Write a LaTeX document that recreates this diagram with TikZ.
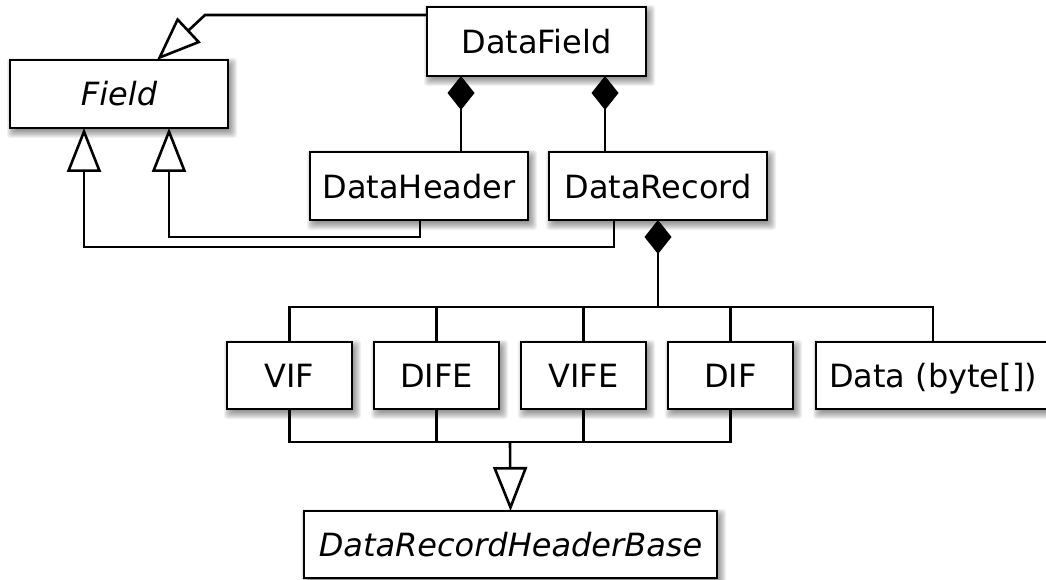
\documentclass[tikz,border=0pt]{standalone}
\usepackage{fontspec}
\setmainfont{DejaVu Sans}
\usetikzlibrary{arrows.meta,calc,backgrounds}

\tikzset{
  cls/.style={draw, line width=2.6pt, fill=white, inner sep=0pt, outer sep=0pt,
              font=\fontsize{32}{38}\selectfont, minimum height=68pt,
              text height=24pt, text depth=0pt},
  wide/.style={cls, minimum width=218pt},
  narrow/.style={cls, minimum width=125pt},
  abstractcls/.style={font=\fontsize{32}{38}\selectfont\itshape},
  link/.style={line width=2.6pt, line join=miter},
  gen/.style={link, -{Triangle[length=44pt, width=34pt, fill=white, line join=miter]}},
  comp/.style={link, {Diamond[length=34pt, width=27pt, line join=miter]}-},
}

\begin{document}
\begin{tikzpicture}[x=1pt, y=-1pt]
  \useasboundingbox (0,0) rectangle (1046,580);

  % classes
  \node[wide, abstractcls] (Field)     at (119,94)     {Field};
  \node[wide, minimum width=219pt, minimum height=69pt] (DataField) at (536.5,41.5) {DataField};
  \node[wide] (DataHeader) at (419,186) {DataHeader};
  \node[wide] (DataRecord) at (658,186) {DataRecord};

  \node[narrow, minimum height=67pt] (VIF)  at (289.5,375.5) {VIF};
  \node[narrow, minimum height=67pt] (DIFE) at (436.5,375.5) {DIFE};
  \node[narrow, minimum height=67pt] (VIFE) at (583.5,375.5) {VIFE};
  \node[narrow, minimum height=67pt] (DIF)  at (730.5,375.5) {DIF};
  \node[cls, minimum width=234pt, minimum height=67pt] (Data) at (933,375.5) {Data (byte[])};

  \node[cls, abstractcls, minimum width=413pt, minimum height=67pt] (Base) at (510.5,544.5) {DataRecordHeaderBase};

  % soft drop shadows and page background
  \begin{pgfonlayer}{background}
    \fill[white] (0,0) rectangle (1046,580);
    \foreach \n in {Field,DataField,DataHeader,DataRecord,VIF,DIFE,VIFE,DIF,Data,Base} {
      \foreach \e in {-2,-1,0,1,2,3,4,5,6} {
        \fill[black, opacity=0.055, rounded corners=3pt]
          ($(\n.north west)+(3-\e,4-\e)$) rectangle ($(\n.south east)+(3+\e,4+\e)$);
      }
    }
  \end{pgfonlayer}

  % DataField generalises Field
  \coordinate (g0) at (205,15);
  \draw[gen] (DataField.west |- g0) -- (g0) -- ($(Field.north west)+(147,0)$);

  % DataField is composed of DataHeader and DataRecord
  \draw[comp] ($(DataField.south west)+(34,0)$) coordinate (d1) -- (d1 |- DataHeader.north);
  \draw[comp] ($(DataField.south west)+(178,0)$) coordinate (d2) -- (d2 |- DataRecord.north);

  % DataHeader and DataRecord generalise Field
  \coordinate (h1) at (169,237);
  \coordinate (h2) at (84,247);
  \draw[gen] ($(DataHeader.south west)+(110,0)$) |- (h1) -- (h1 |- Field.south);
  \draw[gen] ($(DataRecord.south west)+(65,0)$) |- (h2) -- (h2 |- Field.south);

  % DataRecord is composed of its parts
  \coordinate (bus) at (658,307);
  \draw[comp] (DataRecord.south) -- (bus);
  \draw[link] (VIF.north) |- (bus) -| (Data.north);
  \draw[link] (DIFE.north) -- (DIFE.north |- bus);
  \draw[link] (VIFE.north) -- (VIFE.north |- bus);
  \draw[link] (DIF.north) -- (DIF.north |- bus);

  % the header parts generalise DataRecordHeaderBase
  \coordinate (bus2) at (510,442);
  \draw[link] (VIF.south) |- (bus2) -| (DIF.south);
  \draw[link] (DIFE.south) -- (DIFE.south |- bus2);
  \draw[link] (VIFE.south) -- (VIFE.south |- bus2);
  \draw[gen] (bus2) -- (Base.north);
\end{tikzpicture}
\end{document}
